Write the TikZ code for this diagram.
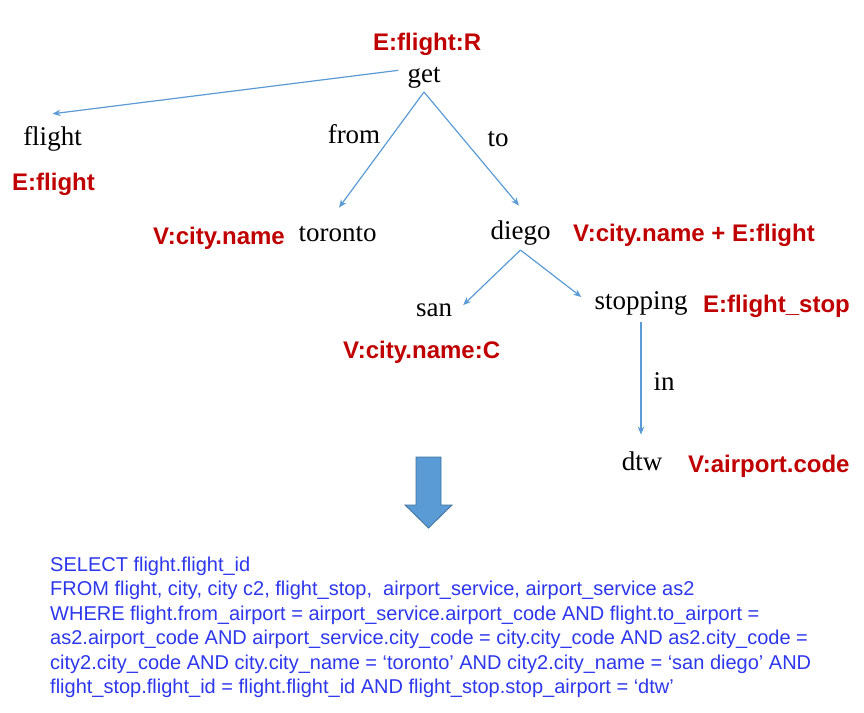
\documentclass[tikz,border=0pt]{standalone}
\usepackage{fontspec}
\setmainfont{Liberation Serif}
\newfontfamily\lsans{Liberation Sans}
\usetikzlibrary{arrows.meta}
\definecolor{conncol}{RGB}{91,155,213}
\definecolor{arrowedge}{RGB}{65,113,156}
\definecolor{redlab}{RGB}{192,0,0}
\definecolor{sqlblue}{RGB}{45,55,235}
\tikzset{
  word/.style={anchor=base, inner sep=0pt, font=\fontsize{27}{30}\selectfont},
  tag/.style={anchor=base west, inner sep=0pt, text=redlab, font=\lsans\bfseries\fontsize{24}{28}\selectfont},
  sql/.style={anchor=base west, inner sep=0pt, text=sqlblue, font=\lsans\fontsize{20}{24}\selectfont},
  conn/.style={draw=conncol, line width=1.2pt, -{Stealth[length=8pt,width=6.5pt]}},
}
\begin{document}
\begin{tikzpicture}[x=1pt,y=-1pt]
\useasboundingbox (0,0) rectangle (864,712);
% tree words
\node[word] (get) at (424,82) {get};
\node[word] (flight) at (52.5,145) {flight};
\node[word] (from) at (354,143) {from};
\node[word] (to) at (498,146) {to};
\node[word] (toronto) at (337.5,241) {toronto};
\node[word] (diego) at (520.5,239) {diego};
\node[word] (san) at (434,316) {san};
\node[word] (stopping) at (641,309) {stopping};
\node[word] (in) at (664,390) {in};
\node[word] (dtw) at (642,470) {dtw};
% red tags
\node[tag] (tget) at (373,50) {E:flight:R};
\node[tag] (tflight) at (12,190) {E:flight};
\node[tag] (ttoronto) at (153,244) {V:city.name};
\node[tag] (tdiego) at (573,241) {V:city.name + E:flight};
\node[tag] (tsan) at (343,358) {V:city.name:C};
\node[tag] (tstop) at (703,312) {E:flight\_stop};
\node[tag] (tdtw) at (688,472) {V:airport.code};
% connectors
\draw[conn] ([xshift=-9pt,yshift=7pt]get.west) -- ([yshift=12pt]flight.north);
\draw[conn] ([yshift=-4pt]get.south) -- ([xshift=1.5pt,yshift=18pt]toronto.north);
\draw[conn] ([yshift=-4pt]get.south) -- ([xshift=-1.5pt,yshift=14.5pt]diego.north);
\draw[conn] ([yshift=-5pt]diego.south) -- ([xshift=11pt,yshift=-2pt]san.north east);
\draw[conn] ([yshift=-5pt]diego.south) -- ([xshift=-13pt,yshift=6pt]stopping.west);
\draw[conn] ([yshift=-7pt]stopping.south) -- ([xshift=-1pt,yshift=16.5pt]dtw.north);
% big arrow
\draw[fill=conncol, draw=arrowedge, line width=0.8pt]
  (416,457) -- (441,457) -- (441,505) -- (452,505) -- (428.5,528) -- (405,505) -- (416,505) -- cycle;
% SQL
\node[sql] (s1) at (50,571) {SELECT flight.flight\_id};
\node[sql] (s2) at (50,595.5) {FROM flight, city, city c2, flight\_stop, \ airport\_service, airport\_service as2};
\node[sql] (s3) at (50,620) {WHERE flight.from\_airport = airport\_service.airport\_code AND flight.to\_airport =};
\node[sql] (s4) at (50,644.5) {as2.airport\_code AND airport\_service.city\_code = city.city\_code AND as2.city\_code =};
\node[sql] (s5) at (50,669) {city2.city\_code AND city.city\_name = ‘toronto’ AND city2.city\_name = ‘san diego’ AND};
\node[sql] (s6) at (50,693.5) {flight\_stop.flight\_id = flight.flight\_id AND flight\_stop.stop\_airport = ‘dtw’};
\end{tikzpicture}
\end{document}
